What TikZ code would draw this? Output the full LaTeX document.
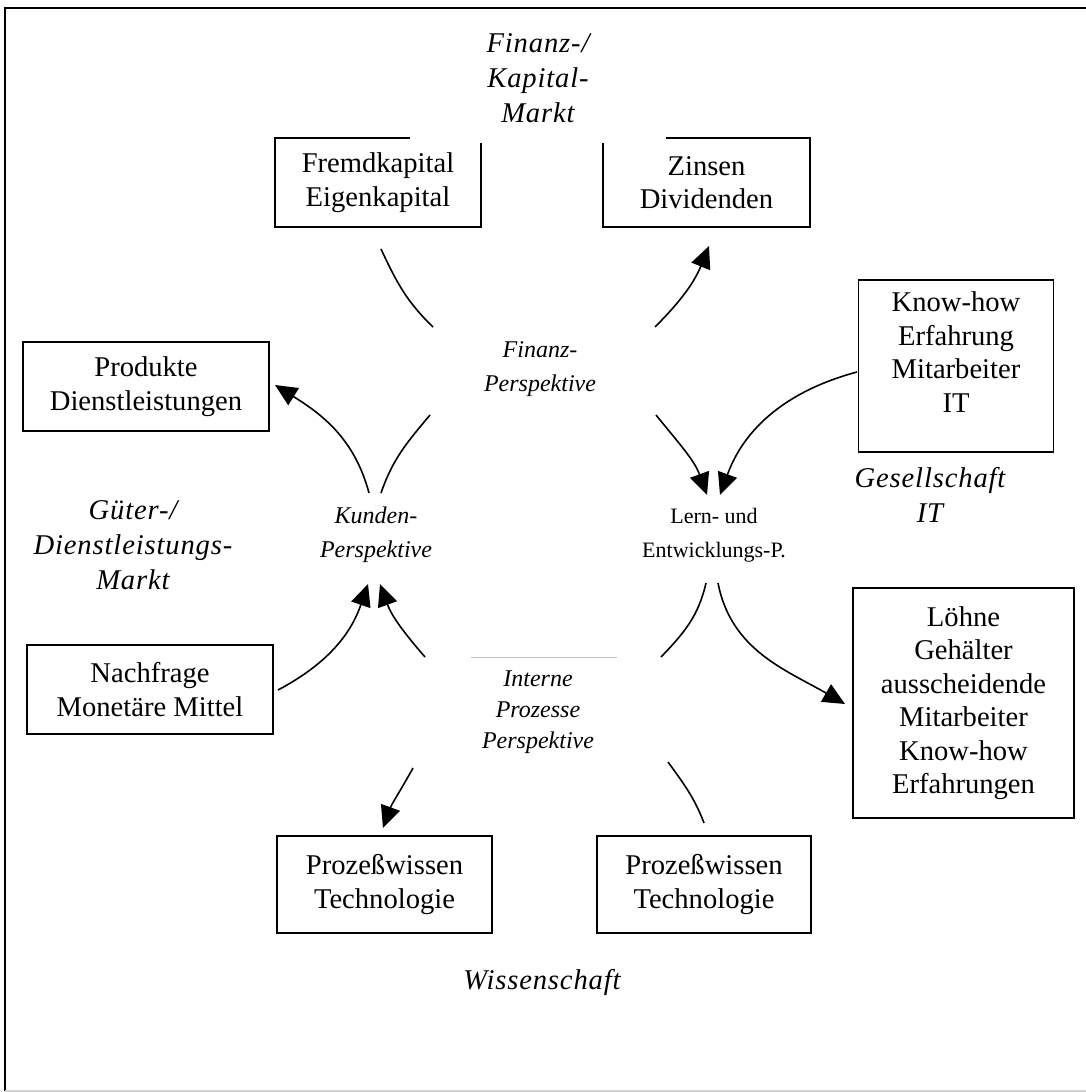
\documentclass[tikz,border=0pt]{standalone}
\usepackage{fontspec}
\setmainfont{Liberation Serif}
\newfontfamily\marketfont[LetterSpace=3]{Liberation Serif}
\usetikzlibrary{arrows.meta,positioning}

\begin{document}
\begin{tikzpicture}[x=1pt,y=1pt,line width=1.6pt,
  >={Triangle[length=22pt,width=20pt]},
  market/.style={font=\marketfont\fontsize{28.6}{35}\selectfont\itshape,align=center},
  persp/.style={font=\fontsize{24}{34}\selectfont\itshape,align=center},
  flowbox/.style={draw,line width=1.8pt,align=center,inner sep=0pt,
    font=\fontsize{28.6}{33.5}\selectfont}]
\useasboundingbox (0,0) rectangle (1086,-1092);
\draw[line width=2pt] (5,-1091) -- (5,-8) -- (1086,-8);
\draw[gray!35,line width=1.5pt] (5,-1091) -- (1086,-1091);

% boxes
\node[flowbox,minimum width=206pt,minimum height=89pt] (Fremd) at (378,-182.5) {Fremdkapital\\Eigenkapital};
\node[flowbox,minimum width=207pt,minimum height=89pt] (Zinsen) at (706.5,-182.5) {Zinsen\\Dividenden};
\node[flowbox,minimum width=246pt,minimum height=89pt] (Produkte) at (146,-386.5) {Produkte\\Dienstleistungen};
\node[flowbox,minimum width=246pt,minimum height=89pt] (Nachfrage) at (150,-689.5) {Nachfrage\\Monetäre Mittel};
\node[flowbox,minimum width=195pt,minimum height=172pt,text depth=28pt] (Knowhow) at (956,-366) {Know-how\\Erfahrung\\Mitarbeiter\\IT};
\node[flowbox,minimum width=221pt,minimum height=230pt] (Loehne) at (963.5,-703) {Löhne\\Gehälter\\ausscheidende\\Mitarbeiter\\Know-how\\Erfahrungen};
\node[flowbox,minimum width=215pt,minimum height=97pt] (ProzL) at (384.5,-884.5) {Prozeßwissen\\Technologie};
\node[flowbox,minimum width=214pt,minimum height=97pt] (ProzR) at (704,-884.5) {Prozeßwissen\\Technologie};

% markets
\node[market,fill=white,minimum width=256pt,minimum height=130pt] (Kapitalmarkt) at (538,-78) {Finanz-/\\Kapital-\\Markt};
\node[market] (Gutermarkt) at (133,-545) {Güter-/\\Dienstleistungs-\\Markt};
\node[market] (Gesellschaft) at (930,-495) {Gesellschaft\\IT};
\node[market] (Wissenschaft) at (542,-982) {Wissenschaft};

% perspectives
\node[persp] (Finanz) at (540,-369) {Finanz-\\Perspektive};
\node[persp] (Kunden) at (376,-535) {Kunden-\\Perspektive};
\node[align=center,font=\fontsize{22}{34}\selectfont] (Lern) at (714,-535) {Lern- und\\Entwicklungs-P.};
\node[persp,font=\fontsize{24}{31}\selectfont\itshape] (Interne) at (538,-712) {Interne\\Prozesse\\Perspektive};
\draw[gray!50,line width=1pt] (471,-657) -- (617,-657);

% arc ends
\coordinate (fkA) at (381,-249);   \coordinate (fkB) at (433,-327);
\coordinate (ziA) at (655,-327);   \coordinate (ziB) at (709,-246);
\coordinate (fiA) at (656,-415);   \coordinate (fiB) at (707,-495);
\coordinate (khA) at (857,-372);   \coordinate (khB) at (720,-495);
\coordinate (leA) at (718,-583);   \coordinate (leB) at (845,-704);
\coordinate (lfA) at (706,-583);   \coordinate (lfB) at (661,-657);
\coordinate (prA) at (668,-762);   \coordinate (prB) at (704,-823);
\coordinate (ipA) at (413,-768);   \coordinate (ipB) at (383,-828);
\coordinate (ikA) at (425,-657);   \coordinate (ikB) at (380,-584);
\coordinate (nkA) at (278,-690);   \coordinate (nkB) at (368,-584);
\coordinate (kpA) at (369,-493);   \coordinate (kpB) at (275,-385);
\coordinate (kfA) at (381,-493);   \coordinate (kfB) at (430,-415);

\draw (fkA) to[out=-65,in=136] (fkB);
\draw[->] (ziA) to[out=45,in=-112] (ziB);
\draw[->] (fiA) to[out=-51,in=110] (fiB);
\draw[->] (khA) to[out=195,in=70] (khB);
\draw[->] (leA) to[out=-79,in=150] (leB);
\draw (lfA) to[out=-103,in=46] (lfB);
\draw (prA) to[out=-54,in=111] (prB);
\draw[->] (ipA) to[out=-119,in=70] (ipB);
\draw[->] (ikA) to[out=131,in=-70] (ikB);
\draw[->] (nkA) to[out=28,in=-109] (nkB);
\draw[->] (kpA) to[out=105,in=-32] (kpB);
\draw (kfA) to[out=71,in=-130] (kfB);
\end{tikzpicture}
\end{document}
